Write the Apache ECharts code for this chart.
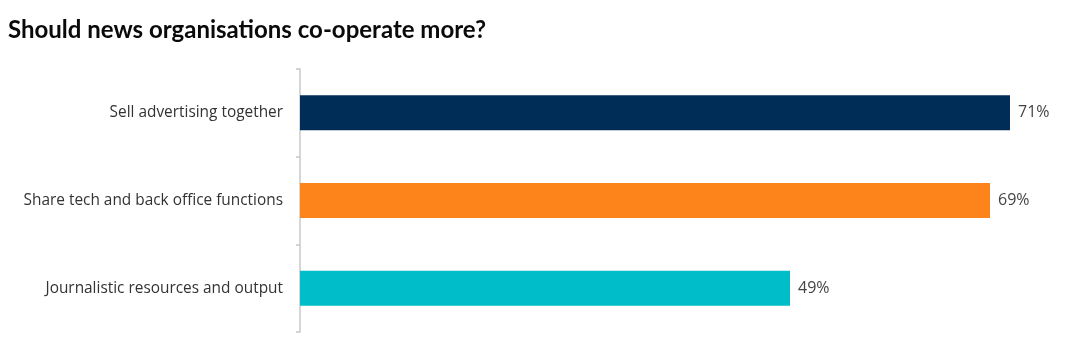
<!DOCTYPE html>
<html><head><meta charset="utf-8">
<script src="https://cdn.jsdelivr.net/npm/echarts@6/dist/echarts.min.js"></script>
<style>html,body{margin:0;padding:0;background:#fff}#c{width:1070px;height:352px}</style>
</head><body><div id="c"></div>
<script>
const titleText = 'Should news organisations co-operate more?';
const categories = ['Sell advertising together', 'Share tech and back office functions', 'Journalistic resources and output'];
const values = [71, 69, 49];
const colors = ['#002d58', '#fd841a', '#00bec9'];

const chart = echarts.init(document.getElementById('c'), null, {renderer: 'canvas'});
chart.setOption({
  animation: false,
  title: {
    text: titleText, left: 3, top: 13,
    textStyle: {fontFamily: 'Lato', fontWeight: 'bold', fontSize: 24, color: '#0a0a0a'}
  },
  grid: {left: 300, right: 10, top: 69, bottom: 20},
  xAxis: {type: 'value', min: 0, max: 76, show: false},
  yAxis: {
    type: 'category', data: categories, inverse: true,
    axisLine: {show: true, lineStyle: {color: '#c8c8c8', width: 1.5}},
    axisTick: {show: true, length: 4, lineStyle: {color: '#c8c8c8', width: 1.5}},
    axisLabel: {margin: 17, fontFamily: 'Open Sans', fontSize: 15.4, color: '#333', padding: [3, 0, 0, 0]}
  },
  series: [{
    type: 'bar', barWidth: 35,
    data: values.map((v, i) => ({value: v, itemStyle: {color: colors[i]}})),
    label: {show: true, position: 'right', distance: 8, formatter: '{c}%', fontFamily: 'Open Sans', fontSize: 16, color: '#444', padding: [3, 0, 0, 0]}
  }]
});
</script></body></html>
